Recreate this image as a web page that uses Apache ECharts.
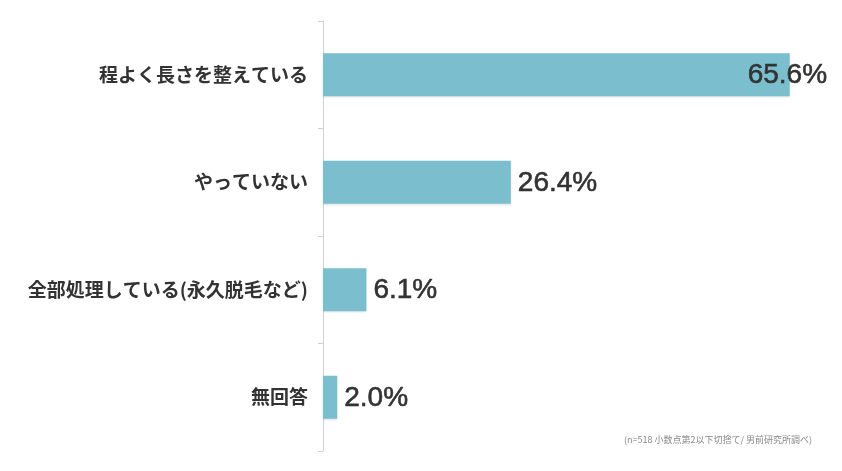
<!DOCTYPE html>
<html>
<head>
<meta charset="utf-8">
<script src="https://cdn.jsdelivr.net/npm/echarts@6/dist/echarts.min.js"></script>
<style>html,body{margin:0;padding:0;background:#fff;}#c{width:842px;height:471px;}</style>
</head>
<body>
<div id="c"></div>
<script>
var categories = ['程よく長さを整えている', 'やっていない', '全部処理している(永久脱毛など)', '無回答'];
var values = [65.6, 26.4, 6.1, 2.0];
var note = '(n=518 小数点第2以下切捨て/ 男前研究所調べ)';

var chart = echarts.init(document.getElementById('c'));
var font = '"Noto Sans CJK JP", "Helvetica Neue", Arial, sans-serif';
chart.setOption({
  animation: false,
  grid: { left: 323, right: 21, top: 21, bottom: 20, containLabel: false },
  xAxis: { type: 'value', min: 0, max: 70, show: false },
  yAxis: {
    type: 'category',
    data: categories,
    inverse: true,
    axisLine: { show: true, lineStyle: { color: '#d0d0d0', width: 1 } },
    axisTick: { show: true, length: 5, lineStyle: { color: '#d0d0d0' } },
    axisLabel: { color: '#333', fontSize: 19, fontWeight: 'bold', margin: 15, fontFamily: font }
  },
  series: [{
    type: 'bar',
    barWidth: 43,
    data: values.map(function (v, i) {
      return {
        value: v,
        label: i === 0 ? { offset: [-49, 1] } : {}
      };
    }),
    itemStyle: { color: '#7bbfcf', shadowColor: 'rgba(0,0,0,0.12)', shadowBlur: 2, shadowOffsetY: 1 },
    label: {
      show: true,
      position: 'right',
      distance: 7,
      offset: [0, 1],
      color: '#333',
      fontSize: 28,
      textBorderColor: '#333',
      textBorderWidth: 0.6,
      fontFamily: 'Arial, "Liberation Sans", sans-serif',
      formatter: function (p) { return p.value.toFixed(1) + '%'; }
    }
  }],
  graphic: [{
    type: 'text',
    right: 30,
    top: 435,
    style: { text: note, fill: '#888', fontSize: 9, fontFamily: font }
  }]
});
</script>
</body>
</html>
